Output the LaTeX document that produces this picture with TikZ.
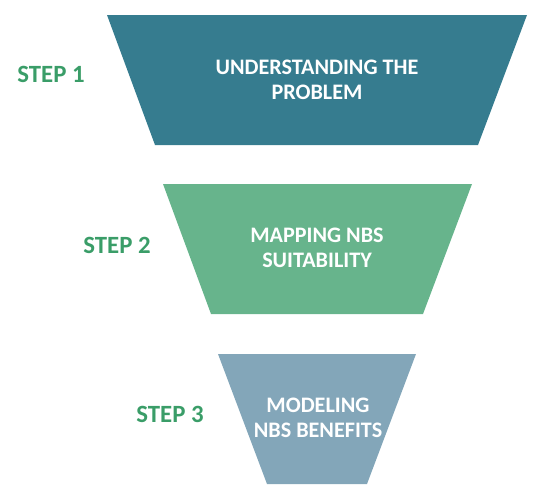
\documentclass[tikz,border=0pt]{standalone}
\usepackage{fontspec}
\setmainfont{Carlito}
\usetikzlibrary{positioning}
\definecolor{funnelA}{HTML}{367C8F}
\definecolor{funnelB}{HTML}{67B48C}
\definecolor{funnelC}{HTML}{83A6B9}
\definecolor{stepgreen}{HTML}{3A9D68}

\begin{document}
\begin{tikzpicture}[
    x=0.75pt, y=-0.75pt,
    txt/.style={text=white, align=center, font=\bfseries\fontsize{16.6}{19}\selectfont, inner sep=0pt},
    stplbl/.style={text=stepgreen, font=\bfseries\fontsize{18.6}{22}\selectfont, inner sep=0pt}
]
\useasboundingbox (0,0) rectangle (547,504);

% funnel levels
\fill[funnelA] (107,15) -- (527,15) -- (478,145) -- (155,145) -- cycle;
\fill[funnelB] (163,184) -- (472,184) -- (423,314) -- (211,314) -- cycle;
\fill[funnelC] (218,354) -- (416,354) -- (367,484) -- (267,484) -- cycle;

\node[txt] (und) at (317,80) {UNDERSTANDING THE\\PROBLEM};
\node[txt] (map) at (317,248) {MAPPING NBS\\SUITABILITY};
\node[txt] (mod) at (318,418) {MODELING\\NBS BENEFITS};

% step labels
\node[stplbl] (s1) at (51,74) {STEP 1};
\node[stplbl] (s2) at (117,245) {STEP 2};
\node[stplbl] (s3) at (170,414) {STEP 3};
\end{tikzpicture}
\end{document}
